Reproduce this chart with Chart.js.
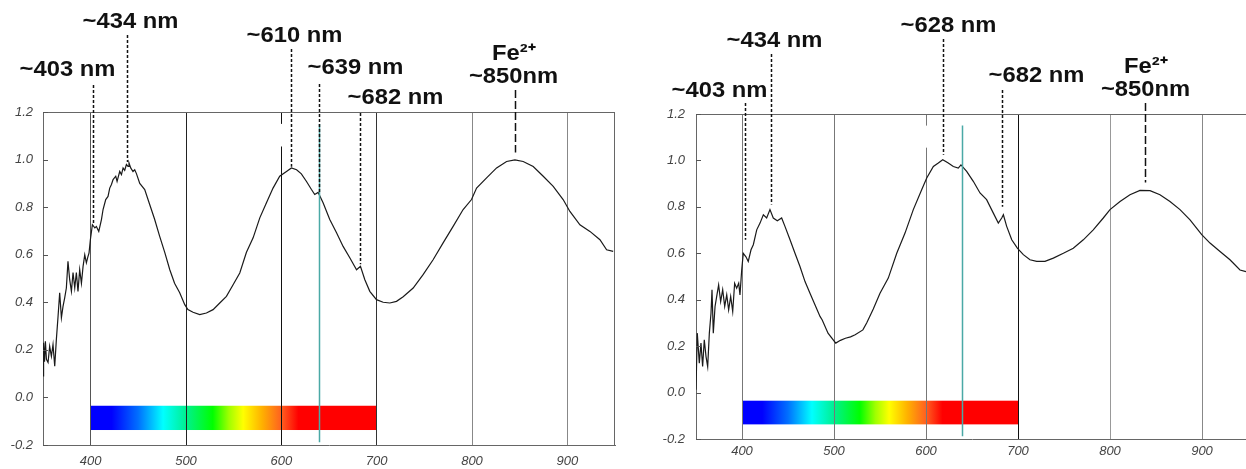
<!DOCTYPE html>
<html>
<head>
<meta charset="utf-8">
<script src="https://cdn.jsdelivr.net/npm/chart.js@4/dist/chart.umd.min.js"></script>
<style>
  html, body { margin: 0; padding: 0; background: #fff; overflow: hidden; }
  body { width: 1246px; height: 469px; position: relative; }
  canvas { position: absolute; top: 0; }
  #left { left: 0; }
  #right { left: 640px; }
</style>
</head>
<body>
<canvas id="left" width="625" height="469"></canvas>
<canvas id="right" width="610" height="469"></canvas>
<script>
// axis ticks
const xTicks = [400, 500, 600, 700, 800, 900];
const yTicks = [-0.2, 0, 0.2, 0.4, 0.6, 0.8, 1.0, 1.2];

// left spectrum (nm, absorbance)
const leftNm = [350, 350.6, 351.6, 352.5, 353.6, 355.3, 357, 358.8, 360.5, 362.3,
  364, 365.8, 367.5, 369.3, 371, 372.8, 374.5, 376.2, 378, 379.8,
  381.5, 383.3, 385, 386.7, 388.5, 390.3, 392, 393.8, 395.5, 397,
  398.3, 399.7, 401.8, 404.4, 406, 408.5, 411.3, 413, 415.8, 418.2,
  420, 421.8, 423.5, 426.3, 427.7, 430.5, 432.3, 434, 435.7, 437.5,
  439.2, 440.2, 442, 444.4, 446.2, 448, 451.5, 456.7, 462, 467,
  472.4, 477.7, 483, 488, 493.4, 498.7, 502, 507.4, 514.4, 521.4,
  528.4, 535.4, 542.4, 549.4, 556.4, 563.4, 570.4, 577.4, 584.4, 591.3,
  598.3, 605.4, 610.6, 616, 621, 626.4, 631.6, 635, 638.6, 643.8,
  650.8, 657.9, 664.8, 671.8, 678.9, 683, 687.6, 692.8, 699.8, 706.8,
  713.8, 720.8, 727.8, 738.3, 748.7, 759.2, 769.7, 780.2, 790.7, 799.5,
  804.8, 815.3, 825.8, 836.3, 845, 853.7, 864.2, 874.7, 885.2, 895.6,
  902.7, 913.2, 923.7, 934.2, 941.2, 948.1];
const leftAbs = [0.09, 0.23, 0.15, 0.236, 0.16, 0.147, 0.215, 0.173, 0.222, 0.131,
  0.243, 0.341, 0.44, 0.335, 0.383, 0.42, 0.46, 0.572, 0.495, 0.446,
  0.525, 0.46, 0.525, 0.446, 0.537, 0.48, 0.55, 0.60, 0.566, 0.59,
  0.608, 0.663, 0.726, 0.713, 0.719, 0.698, 0.748, 0.79, 0.832, 0.845,
  0.88, 0.895, 0.916, 0.93, 0.908, 0.95, 0.937, 0.965, 0.955, 0.979,
  0.971, 0.986, 0.965, 0.95, 0.957, 0.941, 0.90, 0.874, 0.81, 0.75,
  0.677, 0.61, 0.537, 0.48, 0.44, 0.39, 0.369, 0.358, 0.348, 0.355,
  0.369, 0.397, 0.425, 0.474, 0.523, 0.61, 0.671, 0.755, 0.818, 0.88,
  0.93, 0.95, 0.965, 0.957, 0.94, 0.908, 0.874, 0.853, 0.862, 0.818,
  0.748, 0.692, 0.635, 0.587, 0.537, 0.551, 0.495, 0.446, 0.411, 0.40,
  0.397, 0.404, 0.423, 0.46, 0.516, 0.579, 0.65, 0.719, 0.79, 0.832,
  0.88, 0.923, 0.965, 0.992, 0.999, 0.992, 0.971, 0.93, 0.887, 0.832,
  0.782, 0.726, 0.698, 0.663, 0.621, 0.614];

// right spectrum
const rightNm = [350, 351.4, 353.6, 355.4, 357.2, 359, 360.9, 362.7, 364.5, 366.3,
  367.4, 368.8, 370.7, 372.5, 374.6, 376.8, 379, 381.2, 383.4, 385.5,
  387.7, 389.9, 392, 394.2, 396.4, 397.8, 399.7, 401.4, 404.3, 406.8,
  409.8, 412.3, 416, 419.6, 423.2, 426.8, 430.4, 434, 438.4, 443.1,
  446.7, 452.2, 457.6, 463, 468.5, 473.9, 479.3, 484.8, 487.2, 493.5,
  501.9, 507, 512.4, 518, 523, 531.4, 535.5, 542.7, 550, 559,
  568.2, 577.2, 586.2, 595.3, 600.8, 608, 613.4, 618.2, 624.2, 629.7,
  635.1, 638, 644.2, 651.4, 658.7, 665.9, 673.2, 678.6, 682.3, 684.1,
  687.7, 693.2, 699.3, 705.8, 713, 720.3, 729.3, 738.4, 749.3, 760.1,
  771, 781.8, 792.7, 800, 810.9, 821.7, 832.6, 843.5, 854.3, 865.2,
  876.1, 887, 899.7, 908.7, 919.6, 930.4, 941.3, 947.8];
const rightAbs = [0.012, 0.256, 0.127, 0.213, 0.112, 0.227, 0.155, 0.112, 0.256, 0.342,
  0.443, 0.256, 0.371, 0.414, 0.464, 0.392, 0.443, 0.371, 0.421, 0.356,
  0.414, 0.349, 0.471, 0.45, 0.471, 0.421, 0.529, 0.6, 0.585, 0.565,
  0.615, 0.637, 0.701, 0.73, 0.766, 0.752, 0.788, 0.752, 0.74, 0.752,
  0.716, 0.658, 0.6, 0.543, 0.478, 0.428, 0.378, 0.328, 0.313, 0.256,
  0.213, 0.225, 0.234, 0.24, 0.249, 0.27, 0.30, 0.36, 0.428, 0.493,
  0.6, 0.687, 0.788, 0.874, 0.924, 0.974, 0.989, 1.003, 0.989, 0.974,
  0.967, 0.981, 0.953, 0.91, 0.86, 0.831, 0.773, 0.73, 0.752, 0.766,
  0.716, 0.658, 0.622, 0.594, 0.572, 0.565, 0.565, 0.579, 0.6, 0.622,
  0.658, 0.701, 0.752, 0.788, 0.823, 0.852, 0.871, 0.87, 0.852, 0.823,
  0.788, 0.744, 0.68, 0.644, 0.608, 0.572, 0.528, 0.521];

// peak markers
const leftMarkNm = [402, 438, 610, 639, 683, 845];
const leftMarkTo = [0.726, 0.99, 0.97, 0.86, 0.56, 1.03];
const leftMarkText = ['~403 nm', '~434 nm', '~610 nm', '~639 nm', '~682 nm', '~850nm'];
const rightMarkNm = [403, 431, 618, 683, 838];
const rightMarkTo = [0.658, 0.81, 1.025, 0.80, 0.905];
const rightMarkText = ['~403 nm', '~434 nm', '~628 nm', '~682 nm', '~850nm'];
const ionText = 'Fe²⁺';

// visible spectrum strip and reference line
const stripNm = [400, 700];
const stripAbs = [-0.035, -0.137];
const stopNm = [400, 422, 450, 476, 500, 528, 545, 560, 580, 600, 618, 700];
const stopColor = ['#0000ff', '#0000ff', '#0070ff', '#00ffff', '#00f090', '#00ff00',
  '#a0ff00', '#ffff00', '#ffb000', '#ff6020', '#ff0000', '#ff0000'];
const refNm = 639;
const refAbs = [1.15, -0.188];
const gapAbs = [1.15, 1.055];

const FONT = '"Liberation Sans", Arial, sans-serif';

function overlay(o) {
  return {
    id: 'overlay',
    beforeDraw(chart) {
      const { ctx, scales: { x, y } } = chart;
      const x0 = x.getPixelForValue(stripNm[0]), x1 = x.getPixelForValue(stripNm[1]);
      const y0 = y.getPixelForValue(stripAbs[0]), y1 = y.getPixelForValue(stripAbs[1]);
      const g = ctx.createLinearGradient(x0, 0, x1, 0);
      stopNm.forEach((nm, i) => g.addColorStop((nm - stripNm[0]) / (stripNm[1] - stripNm[0]), stopColor[i]));
      ctx.save();
      ctx.fillStyle = g;
      ctx.fillRect(x0, y0, x1 - x0, y1 - y0);
      ctx.restore();
    },
    beforeDatasetsDraw(chart) {
      const { ctx, scales: { x, y } } = chart;
      const px = Math.round(x.getPixelForValue(600));
      ctx.save();
      ctx.fillStyle = '#fff';
      ctx.fillRect(px - 2, y.getPixelForValue(gapAbs[0]), 4, y.getPixelForValue(gapAbs[1]) - y.getPixelForValue(gapAbs[0]));
      ctx.restore();
    },
    afterDraw(chart) {
      const { ctx, chartArea: a, scales: { x, y } } = chart;
      ctx.save();
      // box top / right
      ctx.strokeStyle = '#666';
      ctx.lineWidth = 1;
      ctx.beginPath();
      ctx.moveTo(a.left, Math.round(a.top) + 0.5);
      ctx.lineTo(a.right, Math.round(a.top) + 0.5);
      ctx.moveTo(Math.round(a.right) - 0.5, a.top);
      ctx.lineTo(Math.round(a.right) - 0.5, a.bottom);
      ctx.stroke();
      // inward y ticks
      ctx.strokeStyle = '#555';
      ctx.beginPath();
      yTicks.forEach(v => {
        const py = Math.round(y.getPixelForValue(v)) + 0.5;
        ctx.moveTo(a.left, py);
        ctx.lineTo(a.left + 5, py);
      });
      ctx.stroke();
      // reference line
      const rx = Math.round(x.getPixelForValue(refNm)) + 0.5;
      ctx.strokeStyle = '#4aa9a6';
      ctx.lineWidth = 1.5;
      ctx.beginPath();
      ctx.moveTo(rx, y.getPixelForValue(refAbs[0]));
      ctx.lineTo(rx, y.getPixelForValue(refAbs[1]));
      ctx.stroke();
      // markers
      ctx.strokeStyle = '#111';
      ctx.fillStyle = '#111';
      ctx.lineWidth = 1.5;
      o.nm.forEach((nm, i) => {
        const last = i === o.nm.length - 1;
        const px = Math.round(x.getPixelForValue(nm)) + 0.5;
        ctx.setLineDash(last ? [8, 3] : [3, 2]);
        ctx.beginPath();
        ctx.moveTo(px, o.top[i]);
        ctx.lineTo(px, y.getPixelForValue(o.to[i]));
        ctx.stroke();
        ctx.setLineDash([]);
        const tx = px + o.dx[i];
        ctx.save();
        ctx.translate(tx, o.base[i]);
        ctx.scale(1.08, 1);
        ctx.font = 'bold 22px ' + FONT;
        ctx.textAlign = 'center';
        ctx.textBaseline = 'alphabetic';
        ctx.fillText(o.text[i], 0, 0);
        if (last) ctx.fillText(ionText, 0, -23);
        ctx.restore();
      });
      ctx.restore();
    }
  };
}

function makeChart(id, nm, abs, o) {
  const gridColor = v => o.gridColors[xTicks.indexOf(v)] || '#888';
  return new Chart(document.getElementById(id), {
    type: 'line',
    data: {
      datasets: [{
        data: nm.map((v, i) => ({ x: v, y: abs[i] })),
        borderColor: '#1a1a1a',
        borderWidth: 1.2,
        pointRadius: 0,
        tension: 0
      }]
    },
    options: {
      responsive: false,
      animation: false,
      devicePixelRatio: 1,
      events: [],
      layout: { padding: { top: o.padTop, right: o.padRight, left: 0, bottom: 0 } },
      plugins: { legend: { display: false }, tooltip: { enabled: false } },
      scales: {
        x: {
          type: 'linear', min: 350, max: 950,
          afterBuildTicks: s => { s.ticks = xTicks.map(v => ({ value: v })); },
          afterFit: s => { s.height = o.xAxisH; },
          grid: { color: c => gridColor(c.tick && c.tick.value), lineWidth: 1, drawTicks: false },
          border: { color: '#666', width: 1 },
          ticks: { autoSkip: false, maxRotation: 0, padding: o.xPad, color: '#444',
            font: { family: FONT, size: 13, style: 'italic' } }
        },
        y: {
          min: -0.2, max: 1.2,
          afterBuildTicks: s => { s.ticks = yTicks.map(v => ({ value: v })); },
          afterFit: s => { s.width = o.yAxisW; },
          grid: { drawOnChartArea: false, drawTicks: false },
          border: { color: '#666', width: 1 },
          ticks: { autoSkip: false, padding: o.yPad, color: '#444',
            font: { family: FONT, size: 13, style: 'italic' },
            callback: v => Number(v).toFixed(1) }
        }
      }
    },
    plugins: [overlay(o)]
  });
}

makeChart('left', leftNm, leftAbs, {
  padTop: 112, padRight: 10, xAxisH: 24, yAxisW: 43, xPad: 9, yPad: 10,
  gridColors: ['#555', '#222', '#111', '#333', '#888', '#888'],
  nm: leftMarkNm, to: leftMarkTo, text: leftMarkText,
  top: [85, 35, 49, 84, 113, 90],
  base: [76, 28, 42, 74, 104, 83],
  dx: [-26, 3, 3, 36, 35, -2]
});

makeChart('right', rightNm, rightAbs, {
  padTop: 114, padRight: 2, xAxisH: 30, yAxisW: 56, xPad: 5, yPad: 11,
  gridColors: ['#777', '#777', '#777', '#111', '#999', '#888'],
  nm: rightMarkNm, to: rightMarkTo, text: rightMarkText,
  top: [103, 54, 39, 90, 103],
  base: [97, 47, 32, 82, 96],
  dx: [-26, 3, 5, 34, 0]
});
</script>
</body>
</html>
